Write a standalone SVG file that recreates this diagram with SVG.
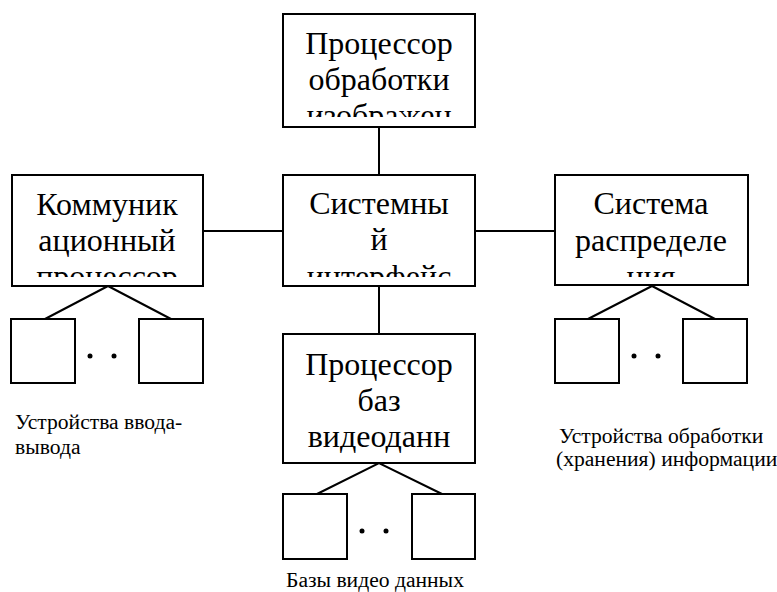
<svg xmlns="http://www.w3.org/2000/svg" width="777" height="592" viewBox="0 0 777 592">
<style>
.box{fill:#fff;stroke:#000;stroke-width:2}
.sq{fill:#fff;stroke:#000;stroke-width:2}
.ln{stroke:#000;stroke-width:2;fill:none}
.big{font-family:'Liberation Serif','Times New Roman','DejaVu Serif',serif;font-size:32px;fill:#000;text-anchor:middle}
.small{font-family:'Liberation Serif','Times New Roman','DejaVu Serif',serif;font-size:21.6px;fill:#000}
.dot{fill:#000}
</style>
<defs>
<clipPath id="cTop"><rect x="283" y="14" width="192" height="103"/></clipPath>
<clipPath id="cLeft"><rect x="12" y="175" width="191" height="102"/></clipPath>
<clipPath id="cCenter"><rect x="283" y="175" width="192" height="102"/></clipPath>
<clipPath id="cRight"><rect x="555" y="175" width="193" height="102"/></clipPath>
<clipPath id="cBottom"><rect x="283" y="334" width="192" height="129"/></clipPath>
</defs>
<g id="connectors">
<line class="ln" x1="379" y1="127" x2="379" y2="175"/>
<line class="ln" x1="379" y1="286" x2="379" y2="334"/>
<line class="ln" x1="203" y1="231" x2="283" y2="231"/>
<line class="ln" x1="475" y1="231" x2="555" y2="231"/>
<polyline class="ln" points="45,319 108,286 171,319"/>
<polyline class="ln" points="588,319 652,286 715,319"/>
<polyline class="ln" points="317,494 379,463 442,494"/>
</g>
<g id="node-image-processor">
<rect class="box" x="283" y="14" width="192" height="113"/>
<g clip-path="url(#cTop)">
<text class="big" x="379" y="54">Процессор</text>
<text class="big" x="379" y="90">обработки</text>
<text class="big" x="379" y="126">изображен</text>
</g>
</g>
<g id="node-comm-processor">
<rect class="box" x="12" y="175" width="191" height="111"/>
<g clip-path="url(#cLeft)">
<text class="big" x="107" y="215">Коммуник</text>
<text class="big" x="107" y="251">ационный</text>
<text class="big" x="107" y="287">процессор</text>
</g>
</g>
<g id="node-system-interface">
<rect class="box" x="283" y="175" width="192" height="111"/>
<g clip-path="url(#cCenter)">
<text class="big" x="379" y="214">Системны</text>
<text class="big" x="379" y="250">й</text>
<text class="big" x="379" y="287">интерфейс</text>
</g>
</g>
<g id="node-distribution">
<rect class="box" x="555" y="175" width="193" height="110"/>
<g clip-path="url(#cRight)">
<text class="big" x="651" y="214">Система</text>
<text class="big" x="651" y="251">распределе</text>
<text class="big" x="651" y="287">ния</text>
</g>
</g>
<g id="node-video-db-processor">
<rect class="box" x="283" y="334" width="192" height="129"/>
<g clip-path="url(#cBottom)">
<text class="big" x="379" y="375">Процессор</text>
<text class="big" x="379" y="411">баз</text>
<text class="big" x="379" y="447">видеоданн</text>
</g>
</g>
<g id="io-devices">
<rect class="sq" x="11" y="319" width="64" height="64"/>
<rect class="sq" x="139" y="319" width="64" height="64"/>
<circle class="dot" cx="90" cy="356" r="2.5"/>
<circle class="dot" cx="114" cy="356" r="2.5"/>
<text class="small" x="15" y="429">Устройства ввода-</text>
<text class="small" x="15" y="454">вывода</text>
</g>
<g id="storage-devices">
<rect class="sq" x="555" y="319" width="64" height="64"/>
<rect class="sq" x="683" y="319" width="64" height="64"/>
<circle class="dot" cx="634" cy="356" r="2.5"/>
<circle class="dot" cx="658" cy="356" r="2.5"/>
<text class="small" x="559" y="443">Устройства обработки</text>
<text class="small" x="556" y="466">(хранения) информации</text>
</g>
<g id="video-databases">
<rect class="sq" x="283" y="494" width="64" height="65"/>
<rect class="sq" x="412" y="494" width="63" height="65"/>
<circle class="dot" cx="362" cy="531" r="2.5"/>
<circle class="dot" cx="386" cy="531" r="2.5"/>
<text class="small" x="286" y="587">Базы видео данных</text>
</g>
</svg>
